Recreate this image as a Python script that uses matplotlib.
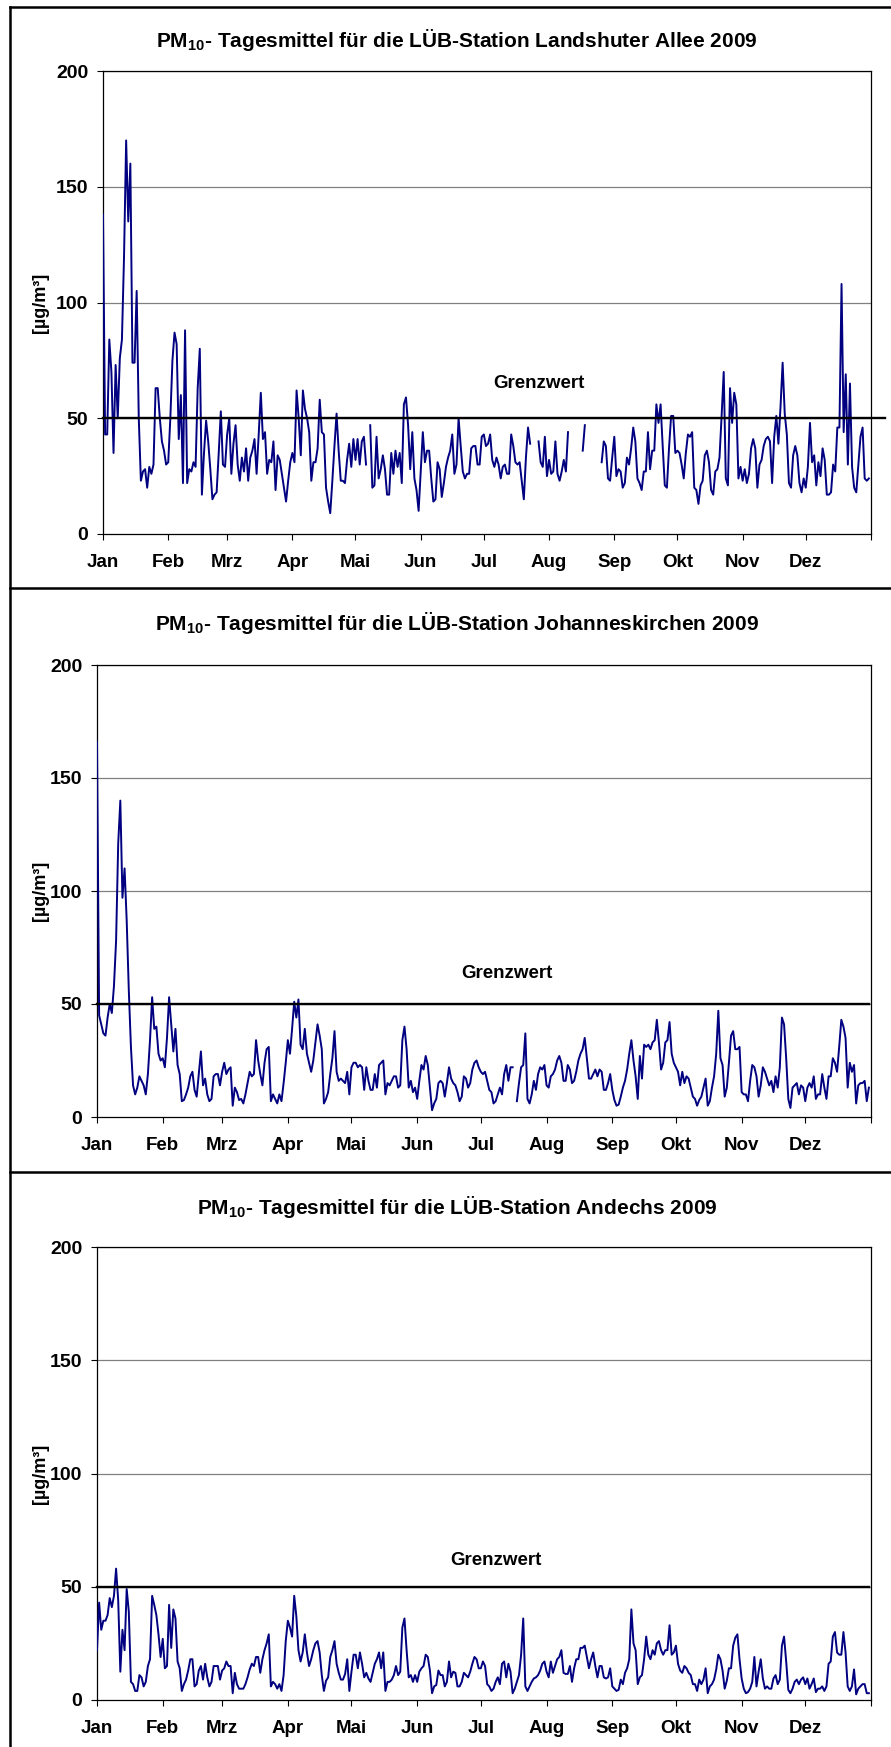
import numpy as np
import matplotlib
matplotlib.use("Agg")
import matplotlib.pyplot as plt
from matplotlib.lines import Line2D

plt.rcParams['font.family'] = ['Liberation Sans', 'DejaVu Sans']
plt.rcParams['mathtext.fontset'] = 'custom'
plt.rcParams['mathtext.rm'] = 'Liberation Sans:bold'
plt.rcParams['mathtext.default'] = 'rm'

nan = np.nan

# ---------------- data ----------------
months = ["Jan", "Feb", "Mrz", "Apr", "Mai", "Jun", "Jul", "Aug", "Sep", "Okt", "Nov", "Dez"]
month_start = [0, 31, 59, 90, 120, 151, 181, 212, 243, 273, 304, 334, 365]
y_ticks = [0, 50, 100, 150, 200]
limit_value = 50

titles = ["PM$_{10}$- Tagesmittel für die LÜB-Station Landshuter Allee 2009",
          "PM$_{10}$- Tagesmittel für die LÜB-Station Johanneskirchen 2009",
          "PM$_{10}$- Tagesmittel für die LÜB-Station Andechs 2009"]

# Landshuter Allee (daily values, NaN = missing)
landshut_jan_jun = [138, 43, 43, 84, 70, 35, 73, 50, 76, 84, 120, 170, 135, 160, 74, 74, 105, 50, 23, 27,
                    28, 20, 29, 26, 30, 63, 63, 50, 40, 36, 30, 31, 50, 75, 87, 82, 41, 60, 22, 88,
                    22, 28, 27, 31, 29, 63, 80, 17, 35, 49, 40, 28, 15, 17, 18, 35, 53, 30, 29, 43,
                    50, 26, 39, 47, 30, 23, 33, 27, 37, 23, 33, 36, 41, 26, 43, 61, 41, 44, 26, 32,
                    31, 40, 19, 34, 32, 26, 20, 14, 23, 31, 35, 31, 62, 50, 34, 62, 54, 50, 44, 23,
                    31, 31, 37, 58, 44, 43, 20, 14, 9, 23, 38, 52, 36, 23, 23, 22, 32, 39, 29, 41,
                    32, 41, 30, 40, 42, 30, nan, 47, 20, 21, 42, 24, 28, 34, 28, 17, 17, 35, 26, 36,
                    29, 35, 22, 56, 59, 47, 28, 44, 24, 19, 10, 27, 44, 31, 36, 36, 24, 14, 15, 31,
                    28, 16, 22, 29, 33, 36]
landshut_jul = [43, 26, 30, 50, 38, 27, 24, 26, 26, 37, 38, 38, 30, 30, 42, 43, 38, 39, 43, 32,
                29, 33, 30, 24, 29, 30, 26, 26, 43, 38, 31, 30, 31, 23, 15, 33, 46, 39]
landshut_aug = [nan, nan, nan, 40, 31, 29, 42, 25, 32, 26, 27, 40, 26, 23, 27, 32, 27, 44,
                nan, nan, nan, nan, nan, nan, 36, 47, nan, nan, nan, nan, nan, nan, nan]
landshut_sep_dez = [31, 40, 38, 24, 23, 33, 42, 25, 28, 27, 20, 22, 33, 30, 37, 46, 40, 24, 22, 19,
                    27, 27, 44, 28, 36, 36, 56, 48, 56, 38, 21, 20, 37, 51, 51, 35, 36, 35, 30, 24,
                    35, 43, 42, 44, 20, 19, 13, 21, 23, 34, 36, 31, 19, 17, 27, 28, 33, 51, 70, 24,
                    21, 63, 48, 61, 56, 24, 29, 23, 28, 22, 26, 37, 41, 37, 20, 30, 32, 38, 41, 42,
                    40, 22, 42, 51, 39, 55, 74, 52, 43, 22, 20, 34, 38, 34, 22, 18, 24, 20, 29, 48,
                    31, 34, 21, 31, 25, 37, 32, 17, 17, 18, 30, 27, 46, 46, 108, 44, 69, 30, 65, 29,
                    20, 18, 30, 42, 46, 24, 23, 24]

# Johanneskirchen
johannes_jan_jun = [166, 45, 41, 37, 36, 44, 50, 46, 58, 78, 121, 140, 97, 110, 87, 56, 31, 14, 10, 13,
                    18, 16, 14, 10, 19, 34, 53, 39, 40, 28, 25, 26, 22, 35, 53, 41, 29, 39, 23, 19,
                    7, 7.5, 10, 13, 18, 20, 12, 9, 19, 29, 14, 17, 10, 7, 8, 18, 19, 19, 14, 20,
                    24, 19, 21, 22, 5, 13, 11, 7.5, 8, 6, 10, 15, 20, 18, 19, 34, 25, 19, 14, 24,
                    30, 31, 7, 10, 8, 6, 10, 7, 15, 24, 34, 28, 39, 51, 44, 52, 32, 30, 39, 28,
                    24, 20, 25, 33, 41, 36, 30, 6, 8, 11, 19, 26, 38, 20, 16, 17, 16, 15, 20, 10,
                    22, 24, 24, 22, 23, 22, 12, 22, 16, 12, 12, 19, 13, 23, 24, 25, 10, 15, 14, 16,
                    18, 18, 13, 14, 34, 40, 30, 13, 16, 11, 13, 8, 16, 23, 21, 27, 23, 13, 3, 6]
johannes_jul_dez = [8, 15, 16, 15, 9, 15, 22, 17, 15, 14, 11, 7, 9, 18, 17, 13, 15, 21, 24, 25,
                    22, 20, 19, 20, 16, 12, 11, 6, 7, 10, 13, 10, 19, 23, 16, 22, 22, nan, 7, 15,
                    22, 23, 37, 8, 6, 10, 16, 12, 19, 22, 21, 23, 14, 13, 18, 19, 21, 25, 27, 24,
                    16, 16, 23, 21, 15, 16, 20, 25, 28, 30, 35, 26, 17, 17, 19, 21, 18, 21, 20, 12,
                    12, 15, 19, 12, 7.5, 5, 5.5, 9, 13, 16, 21, 28, 34, 25, 18, 8, 27, 17, 32, 31,
                    32, 30, 33, 34, 43, 33, 21, 24, 33, 34, 42, 28, 24, 22, 20, 14, 20, 15, 18, 17,
                    13, 9, 8, 5, 7.5, 9, 13, 17, 5, 7, 13, 18, 28, 47, 26, 23, 9, 13, 24, 36,
                    38, 30, 30, 31, 11, 10, 10, 7, 16, 23, 22, 18, 9, 14, 22, 20, 17, 14, 16, 11,
                    18, 13, 22, 44, 41, 26, 8, 4, 13, 14, 15, 10, 14, 13, 7, 13, 15, 13, 18, 8,
                    10, 10, 19, 13, 8, 18, 18, 26, 24, 20, 31, 43, 40, 35, 13, 24, 20, 23, 6, 14,
                    15, 15, 16, 7, 13]

# Andechs
andechs_jan_jun = [22, 43, 31, 35, 35, 37.5, 45, 41, 46, 58, 44, 12.5, 31, 22, 49, 39, 8, 7, 4, 4,
                   11, 10, 6, 8, 15, 18, 46, 42, 37.5, 29, 19, 27, 14, 15, 42, 23, 40, 36, 17, 14,
                   4, 7, 9, 13, 18, 18, 6, 7, 13, 15, 9, 16, 10, 6, 8, 15, 15, 15, 9, 13,
                   14, 17, 15, 15, 3, 12, 7, 5, 5, 5, 7, 10, 13.5, 16, 15, 19, 19, 12, 18, 22,
                   25, 29, 6, 8, 7, 5, 7, 4, 11, 26, 35, 32, 28, 46, 37, 22, 17, 21, 29, 21,
                   15, 18, 22, 25, 26, 21, 11, 4, 8.5, 10, 19, 22, 26, 16, 12, 9, 9, 11.5, 18, 4,
                   12.5, 20, 20, 14, 21, 16, 10, 12, 9.5, 8, 12, 16, 18, 21, 14, 21, 4, 8, 8, 9,
                   11, 15, 11, 12.5, 32, 36, 22, 10, 11, 8, 11, 8, 12.5, 14, 15, 20, 19, 13, 3, 6]
andechs_jul_dez = [6.6, 13, 11, 11, 6, 8, 17, 10, 12.5, 12, 6, 6, 8, 12, 11, 10, 12.5, 16, 19, 18,
                   14, 14, 17, 15, 7, 6, 4, 5, 8, 10, 7, 16, 17, 10, 16, 12.5, 3, 5, 8, 11,
                   20, 36, 6, 4, 6, 8, 9.5, 10, 11, 13, 16, 17, 12.5, 10, 17, 12, 15, 18, 19, 22,
                   12, 11.5, 11.5, 15, 8, 14, 18, 18, 23, 23, 24, 19, 14, 18, 21, 15, 10, 15, 15, 10,
                   9.5, 10, 14, 6, 5, 4, 4.5, 9, 7, 12, 14, 18, 40, 25, 22, 7, 10, 11, 18, 28,
                   20, 18, 22, 20, 25, 26, 22, 20, 22, 22, 33, 20, 21, 24, 16, 13, 12, 15, 14, 12,
                   11, 7, 7, 4, 9, 7, 9, 14, 3, 6, 7, 9, 13.5, 20, 18, 13, 5, 8.5, 14, 14,
                   24, 27.5, 29, 18, 9.5, 5, 3, 3.5, 5, 8, 19, 6, 12.5, 18, 9.5, 5, 6, 5, 5, 9.5,
                   11, 7, 9, 24, 28, 17, 4.5, 3, 5, 8, 9, 7, 9, 10, 7, 9.5, 5, 7, 9.5, 3.5,
                   5, 5, 6, 4, 6, 16, 17, 28, 30, 21, 20, 20, 30, 21, 6, 4, 6, 13.5, 2.5, 5,
                   6, 7, 7, 3, 3]

series = [landshut_jan_jun + landshut_jul + landshut_aug + landshut_sep_dez,
          johannes_jan_jun + johannes_jul_dez,
          andechs_jan_jun + andechs_jul_dez]

# ---------------- layout ----------------
W, H = 891, 1747
fig = plt.figure(figsize=(W / 100, H / 100), dpi=100)

# axes rectangles in pixels: left, top(200), right, bottom(0)
rects = [(103, 71, 871, 534), (97, 665, 871, 1117), (97, 1247, 871, 1700)]
title_y = [40, 623, 1207]
grenz_pos = [(0.568, 64.8), (0.530, 63.7), (0.516, 61.8)]
limit_right = [1.018, 0.997, 0.997]

navy = "#000080"
for i, (l, t, r, b) in enumerate(rects):
    ax = fig.add_axes([l / W, 1 - b / H, (r - l) / W, (b - t) / H])
    vals = np.array(series[i], dtype=float)
    days = np.arange(len(vals))
    ax.plot(days, vals, color=navy, lw=1.4, zorder=3)
    ax.set_xlim(0, 365)
    ax.set_ylim(0, 200)
    ax.set_yticks(y_ticks)
    ax.set_yticklabels([str(v) for v in y_ticks], fontsize=14, fontweight='bold')
    ax.set_xticks(month_start)
    ax.set_xticklabels(months + [""], fontsize=13.5, fontweight='bold')
    ax.tick_params(axis='y', direction='out', length=4, width=0.8, pad=6.5)
    ax.tick_params(axis='x', direction='out', length=4.5, width=0.8, pad=10)
    for v in y_ticks[1:]:
        ax.axhline(v, color="#808080", lw=0.9, zorder=1)
    for s in ax.spines.values():
        s.set_linewidth(0.9)
        s.set_color("black")
    ax.plot([0, limit_right[i]], [limit_value, limit_value], transform=ax.get_yaxis_transform(),
            color="black", lw=1.7, clip_on=False, zorder=4)
    gx, gy = grenz_pos[i]
    ax.text(gx, gy, "Grenzwert", transform=ax.get_yaxis_transform(), ha='center', va='center',
            fontsize=13.5, fontweight='bold')
    fig.text(40 / W, 1 - (t + b) / 2 / H, "[µg/m³]", rotation=90, ha='center', va='center',
             fontsize=13, fontweight='bold')
    fig.text(457 / W, 1 - title_y[i] / H, titles[i], ha='center', va='center',
             fontsize=15, fontweight='bold')

# panel frames
lw_frame = 1.8
fig.add_artist(Line2D([10 / W, 10 / W], [1 - 7 / H, 0], transform=fig.transFigure, color='black', lw=lw_frame))
for yy in [7, 588, 1172]:
    fig.add_artist(Line2D([10 / W, 1], [1 - yy / H, 1 - yy / H], transform=fig.transFigure,
                          color='black', lw=lw_frame))

fig.savefig("out.png", dpi=100)
